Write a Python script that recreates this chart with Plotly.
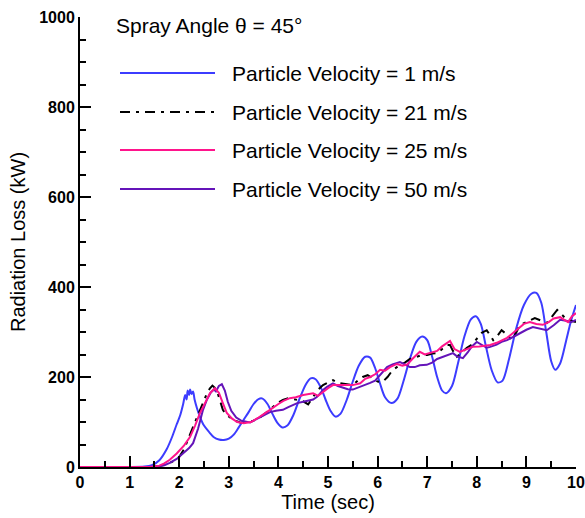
import plotly.graph_objects as go

# ---------------- data ----------------
t_v1 = [0, 1.0, 1.3, 1.45, 1.6, 1.75, 1.85, 1.95, 2.02, 2.08, 2.12, 2.15, 2.17, 2.2, 2.22, 2.25, 2.28,
        2.31, 2.36, 2.42, 2.5, 2.6, 2.7, 2.8, 2.9, 3.0, 3.1, 3.2, 3.3, 3.4, 3.5, 3.6, 3.68, 3.78, 3.88,
        3.98, 4.08, 4.18, 4.3, 4.42, 4.55, 4.65, 4.75, 4.85, 4.95, 5.05, 5.15, 5.25, 5.38, 5.5, 5.62,
        5.75, 5.85, 5.95, 6.05, 6.15, 6.28, 6.4, 6.52, 6.65, 6.78, 6.9, 7.0, 7.1, 7.2, 7.3, 7.38, 7.5,
        7.62, 7.75, 7.88, 7.98, 8.08, 8.18, 8.3, 8.42, 8.52, 8.65, 8.8, 8.95, 9.1, 9.2, 9.3, 9.4, 9.5,
        9.58, 9.68, 9.8, 9.9, 10.0]
q_v1 = [0, 0, 1, 4, 15, 40, 65, 95, 115, 140, 160, 150, 170, 160, 172, 162, 168,
        150, 130, 111, 92, 78, 66, 61, 60, 63, 72, 88, 105, 122, 140, 151, 152, 140, 118,
        98, 88, 92, 115, 150, 183, 197, 195, 178, 150, 125, 112, 118, 150, 190, 225,
        245, 243, 220, 185, 155, 142, 152, 190, 240, 278, 290, 282, 245, 200, 170, 164, 180,
        230, 290, 328, 335, 318, 270, 215, 188, 192, 240, 310, 360, 385, 387, 365, 300, 235,
        216, 230, 280, 325, 360]

t_v21 = [0, 1.4, 1.6, 1.75, 1.9, 2.0, 2.1, 2.2, 2.28, 2.35, 2.42, 2.5, 2.56, 2.62, 2.67, 2.72, 2.77,
         2.83, 2.88, 2.95, 3.02, 3.12, 3.23, 3.35, 3.5, 3.65, 3.83, 3.95, 4.09, 4.2, 4.3, 4.42, 4.5,
         4.6, 4.7, 4.8, 4.9, 5.0, 5.1, 5.2, 5.35, 5.5, 5.6, 5.7, 5.8, 5.9, 6.0, 6.1, 6.2, 6.3, 6.45,
         6.55, 6.65, 6.79, 6.9, 7.0, 7.1, 7.2, 7.3, 7.4, 7.46, 7.52, 7.6, 7.7, 7.8, 7.9, 8.0, 8.1,
         8.2, 8.27, 8.33, 8.42, 8.5, 8.6, 8.71, 8.8, 8.87, 9.0, 9.1, 9.17, 9.3, 9.41, 9.5, 9.62,
         9.72, 9.82, 9.9, 10.0]
q_v21 = [0, 0, 2, 6, 14, 22, 40, 65, 89, 108, 127, 148, 164, 175, 181, 176, 166,
         145, 127, 116, 110, 103, 99, 98, 103, 112, 127, 140, 149, 153, 151, 149, 146,
         139, 155, 172, 182, 188, 193, 187, 184, 182, 192, 200, 204, 196, 190, 189, 200, 215, 227,
         232, 240, 245, 249, 249, 252, 253, 262, 271, 271, 258, 245, 256, 265, 272, 285, 298,
         304, 292, 282, 292, 304, 295, 282, 300, 316, 322, 328, 331, 325, 320, 332, 349,
         338, 327, 325, 322]

t_v25 = [0, 1.4, 1.6, 1.7, 1.81, 1.95, 2.1, 2.22, 2.32, 2.42, 2.52, 2.62, 2.72, 2.8, 2.88, 2.96, 3.06,
         3.17, 3.3, 3.45, 3.6, 3.75, 3.83, 4.0, 4.1, 4.23, 4.35, 4.5, 4.6, 4.7, 4.8, 4.9, 5.0, 5.1,
         5.24, 5.38, 5.5, 5.65, 5.75, 5.85, 5.95, 6.05, 6.15, 6.25, 6.39, 6.5, 6.6, 6.7, 6.85, 6.95,
         7.06, 7.2, 7.3, 7.4, 7.46, 7.55, 7.66, 7.8, 7.92, 8.05, 8.15, 8.27, 8.4, 8.5, 8.61, 8.7,
         8.8, 8.87, 8.95, 9.07, 9.2, 9.33, 9.45, 9.55, 9.68, 9.75, 9.84, 9.92, 10.0]
q_v25 = [0, 0, 3, 8, 16, 30, 48, 67, 92, 120, 142, 164, 175, 165, 142, 120, 108,
         100, 97, 100, 110, 120, 127, 140, 147, 153, 155, 160, 162, 164, 158, 167, 175, 182,
         182, 182, 182, 186, 196, 200, 206, 216, 214, 222, 229, 225, 228, 240, 256, 250,
         253, 258, 268, 276, 280, 262, 256, 262, 267, 268, 270, 271, 276, 282, 287, 295,
         305, 311, 318, 322, 318, 316, 322, 330, 333, 328, 322, 335, 342]

t_v50 = [0, 1.5, 1.7, 1.81, 1.95, 2.1, 2.2, 2.28, 2.38, 2.48, 2.56, 2.64, 2.7, 2.74, 2.8, 2.86, 2.92,
         2.98, 3.05, 3.15, 3.25, 3.43, 3.6, 3.7, 3.83, 3.95, 4.09, 4.2, 4.3, 4.38, 4.5, 4.6, 4.7,
         4.78, 4.9, 4.98, 5.1, 5.2, 5.3, 5.4, 5.5, 5.6, 5.7, 5.85, 5.95, 6.05, 6.11, 6.19, 6.3, 6.45,
         6.55, 6.65, 6.75, 6.85, 6.99, 7.1, 7.2, 7.32, 7.45, 7.52, 7.6, 7.72, 7.82, 7.9, 8.0, 8.1,
         8.2, 8.27, 8.4, 8.5, 8.61, 8.75, 8.87, 9.0, 9.13, 9.27, 9.41, 9.55, 9.68, 9.8, 9.9, 10.0]
q_v50 = [0, 0, 4, 9, 18, 32, 42, 53, 85, 127, 150, 166, 172, 168, 180, 184, 170,
         145, 125, 110, 103, 99, 108, 115, 122, 125, 127, 133, 139, 142, 145, 148, 150,
         156, 171, 178, 186, 180, 176, 173, 172, 176, 180, 187, 192, 204, 210, 222, 228, 233,
         228, 222, 222, 226, 227, 232, 240, 245, 250, 253, 246, 242, 255, 268, 278, 272,
         265, 267, 272, 278, 282, 290, 298, 305, 311, 308, 304, 315, 327, 325, 322, 327]

series_names = ["Particle Velocity = 1 m/s", "Particle Velocity = 21 m/s",
                "Particle Velocity = 25 m/s", "Particle Velocity = 50 m/s"]
legend_title = "Spray Angle \u03b8 = 45\u00b0"
x_title = "Time (sec)"
y_title = "Radiation Loss (kW)"

# ---------------- styles ----------------
colors = ["rgb(60,60,255)", "black", "rgb(255,20,140)", "rgb(100,20,185)"]
dashes = ["solid", "10px,6px,3px,6px", "solid", "solid"]
shapes_line = ["spline", "linear", "linear", "linear"]

fig = go.Figure()
data = [(t_v1, q_v1), (t_v21, q_v21), (t_v25, q_v25), (t_v50, q_v50)]
order = [0, 1, 3, 2]
for i in order:
    tx, qy = data[i]
    fig.add_trace(go.Scatter(x=tx, y=qy, mode="lines", name=series_names[i],
                             line=dict(color=colors[i], width=2, dash=dashes[i],
                                       shape=shapes_line[i], smoothing=0.8 if shapes_line[i] == "spline" else None),
                             showlegend=False))

W, H = 585, 518
L, R, T, B = 80, 9, 17, 51
pw, ph = W - L - R, H - T - B

def px(xp):
    return (xp - L) / pw

def py(yp):
    return (H - B - yp) / ph

shapes = []
annotations = []
annotations.append(dict(x=px(114), y=py(25), xref="paper", yref="paper", text=legend_title,
                        showarrow=False, xanchor="left", yanchor="middle",
                        font=dict(family="Liberation Sans, Arial", size=21, color="black")))
rows = [73, 112, 150, 189]
for k, yrow in enumerate(rows):
    shapes.append(dict(type="line", xref="paper", yref="paper", x0=px(120), x1=px(215),
                       y0=py(yrow), y1=py(yrow),
                       line=dict(color=colors[k], width=2, dash=dashes[k])))
    annotations.append(dict(x=px(230), y=py(yrow), xref="paper", yref="paper", text=series_names[k],
                            showarrow=False, xanchor="left", yanchor="middle",
                            font=dict(family="Liberation Sans, Arial", size=21, color="black")))

fig.update_layout(
    width=W, height=H,
    margin=dict(l=L, r=R, t=T, b=B, pad=0),
    paper_bgcolor="white", plot_bgcolor="white",
    shapes=shapes, annotations=annotations,
    font=dict(family="Liberation Sans, Arial", color="black"),
)
fig.update_xaxes(range=[0, 10], dtick=1, tick0=0, showgrid=False, zeroline=False,
                 showline=True, linecolor="black", linewidth=2,
                 ticks="inside", ticklen=11, tickwidth=1.5, tickcolor="black",
                 tickfont=dict(family="Liberation Sans, Arial", size=16, color="black", weight="bold"),
                 minor=dict(dtick=0.5, ticks="inside", ticklen=6, tickwidth=1.5, tickcolor="black"),
                 title=dict(text=x_title, standoff=5,
                            font=dict(family="Liberation Sans, Arial", size=20, color="black")),
                 automargin=False)
fig.update_yaxes(range=[0, 1000], dtick=200, tick0=0, showgrid=False, zeroline=False,
                 showline=True, linecolor="black", linewidth=2,
                 ticks="inside", ticklen=11, tickwidth=1.5, tickcolor="black",
                 tickfont=dict(family="Liberation Sans, Arial", size=16, color="black", weight="bold"),
                 minor=dict(dtick=50, ticks="inside", ticklen=6, tickwidth=1.5, tickcolor="black"),
                 title=dict(text=y_title, standoff=8,
                            font=dict(family="Liberation Sans, Arial", size=20, color="black")),
                 automargin=False)

fig.write_html("out.html")
